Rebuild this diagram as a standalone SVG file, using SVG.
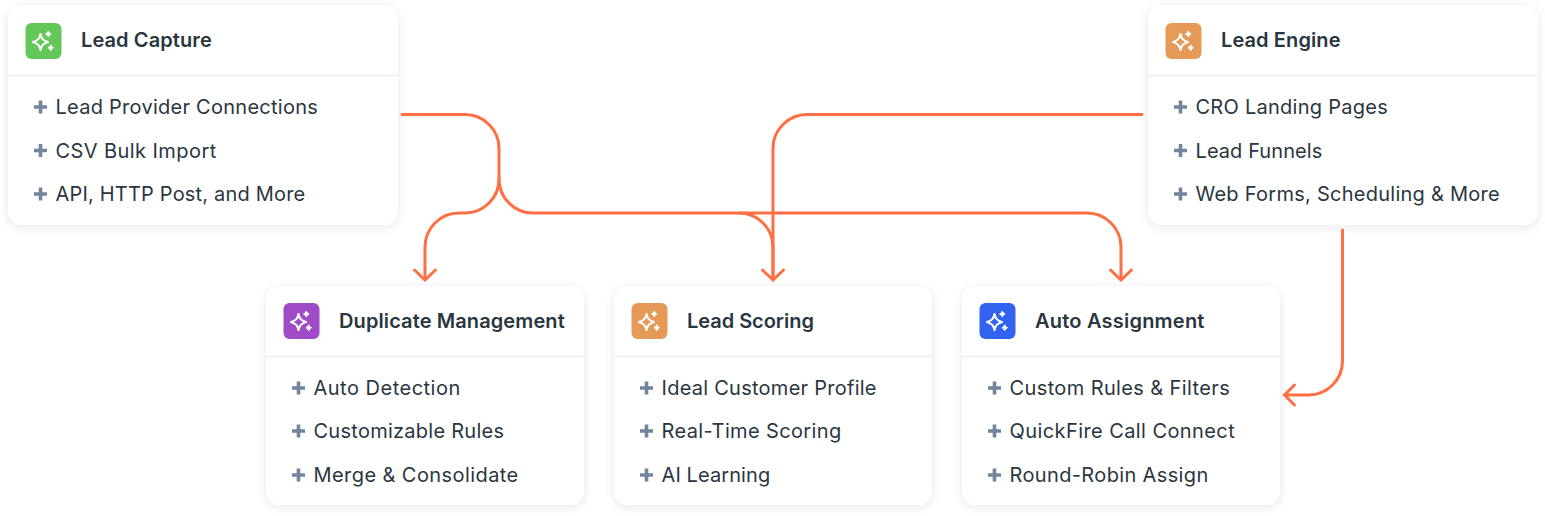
<svg xmlns="http://www.w3.org/2000/svg" width="1545" height="516" viewBox="0 0 1545 516">
<style>
.card{fill:#fff;filter:url(#sh)}
.div{stroke:#e9eef5;stroke-width:1.5;fill:none}
.title{font:600 20px Inter,"Liberation Sans",sans-serif;fill:#2a3640;letter-spacing:.1px}
.item{font:400 20px Inter,"Liberation Sans",sans-serif;fill:#2a3640;letter-spacing:.26px}
.plus{stroke:#71859c;stroke-width:3.6;fill:none}
.conn{stroke:#ff6f43;stroke-width:3;fill:none;stroke-linecap:round}
.spark{fill:none;stroke:#fff;stroke-width:2.1;stroke-linejoin:round}
.dot{fill:#fff;stroke:#fff;stroke-width:1;stroke-linejoin:round}
</style>
<defs>
<filter id="sh" x="-10%" y="-10%" width="120%" height="125%"><feDropShadow dx="0" dy="2" stdDeviation="5" flood-color="#33415c" flood-opacity="0.1"/></filter>
<g id="sp">
<path class="spark" d="M-1.500 -7.500C-.5 -3 1 -1 6 0.500C1 2 -.5 4 -1.500 8.500C-2.500 4 -4 2 -9 0.500C-4 -1 -2.500 -3 -1.500 -7.500Z"/>
<path class="dot" d="M6.300 -10.500Q6.900 -8.200 9.100 -7.500Q6.900 -6.800 6.300 -4.500Q5.700 -6.800 3.500 -7.500Q5.700 -8.200 6.300 -10.500Z"/>
<path class="dot" d="M8.700 3.200Q9.300 5.500 11.500 6.200Q9.300 6.900 8.700 9.200Q8.100 6.900 5.900 6.200Q8.100 5.500 8.700 3.200Z"/>
</g>
<path id="pl" class="plus" d="M-6.500 0H6.500M0 -6.500V6.500"/>
</defs>
<g id="lead-capture">
<rect class="card" x="8" y="5" width="390" height="220" rx="14"/>
<path class="div" d="M8 75.500H398"/>
<rect x="25.500" y="23" width="36" height="36" rx="6" fill="#64c75a"/>
<use href="#sp" x="42" y="41.500"/>
<text class="title" x="81" y="47">Lead Capture</text>
<use href="#pl" x="40.500" y="107"/><text class="item" x="55.500" y="114">Lead Provider Connections</text>
<use href="#pl" x="40.500" y="150.500"/><text class="item" x="55.500" y="157.500" textLength="161">CSV Bulk Import</text>
<use href="#pl" x="40.500" y="194"/><text class="item" x="55.500" y="201" textLength="250">API, HTTP Post, and More</text>
</g>
<g id="lead-engine">
<rect class="card" x="1148" y="5" width="390" height="220" rx="14"/>
<path class="div" d="M1148 75.500H1538"/>
<rect x="1165.500" y="23" width="36" height="36" rx="6" fill="#e59a58"/>
<use href="#sp" x="1182" y="41.500"/>
<text class="title" x="1221" y="47">Lead Engine</text>
<use href="#pl" x="1180.500" y="107"/><text class="item" x="1195.500" y="114">CRO Landing Pages</text>
<use href="#pl" x="1180.500" y="150.500"/><text class="item" x="1195.500" y="157.500" textLength="127">Lead Funnels</text>
<use href="#pl" x="1180.500" y="194"/><text class="item" x="1195.500" y="201">Web Forms, Scheduling &amp; More</text>
</g>
<g id="duplicate-management">
<rect class="card" x="266" y="286" width="318" height="219" rx="14"/>
<path class="div" d="M266 356.500H584"/>
<rect x="283.500" y="303" width="36" height="36" rx="6" fill="#a04cc6"/>
<use href="#sp" x="300" y="321.500"/>
<text class="title" x="339" y="327.500">Duplicate Management</text>
<use href="#pl" x="298.500" y="388"/><text class="item" x="313.500" y="395" textLength="147">Auto Detection</text>
<use href="#pl" x="298.500" y="431"/><text class="item" x="313.500" y="438">Customizable Rules</text>
<use href="#pl" x="298.500" y="475"/><text class="item" x="313.500" y="482" textLength="205">Merge &amp; Consolidate</text>
</g>
<g id="lead-scoring">
<rect class="card" x="614" y="286" width="318" height="219" rx="14"/>
<path class="div" d="M614 356.500H932"/>
<rect x="631.500" y="303" width="36" height="36" rx="6" fill="#e59a58"/>
<use href="#sp" x="648" y="321.500"/>
<text class="title" x="687" y="327.500" textLength="127">Lead Scoring</text>
<use href="#pl" x="646.500" y="388"/><text class="item" x="661.500" y="395">Ideal Customer Profile</text>
<use href="#pl" x="646.500" y="431"/><text class="item" x="661.500" y="438" textLength="180">Real-Time Scoring</text>
<use href="#pl" x="646.500" y="475"/><text class="item" x="661.500" y="482" textLength="109">AI Learning</text>
</g>
<g id="auto-assignment">
<rect class="card" x="962" y="286" width="318" height="219" rx="14"/>
<path class="div" d="M962 356.500H1280"/>
<rect x="979.500" y="303" width="36" height="36" rx="6" fill="#3163f0"/>
<use href="#sp" x="996" y="321.500"/>
<text class="title" x="1035" y="327.500" textLength="169.500">Auto Assignment</text>
<use href="#pl" x="994.500" y="388"/><text class="item" x="1009.500" y="395" textLength="220.500">Custom Rules &amp; Filters</text>
<use href="#pl" x="994.500" y="431"/><text class="item" x="1009.500" y="438" textLength="225.500">QuickFire Call Connect</text>
<use href="#pl" x="994.500" y="475"/><text class="item" x="1009.500" y="482" textLength="199">Round-Robin Assign</text>
</g>
<g id="connectors">
<path class="conn" d="M402 114.500H465A34 34 0 0 1 499 148.500V179A34 34 0 0 1 465 213H459A34 34 0 0 0 425 247V279"/>
<path class="conn" d="M414.500 270L425 280L435.500 270"/>
<path class="conn" d="M499 179A34 34 0 0 0 533 213H1087A34 34 0 0 1 1121 247V279"/>
<path class="conn" d="M1110.500 270L1121 280L1131.500 270"/>
<path class="conn" d="M739 213A34 34 0 0 1 773 247V279"/>
<path class="conn" d="M1142 114.500H807A34 34 0 0 0 773 148.500V279"/>
<path class="conn" d="M762.500 270L773 280L783.500 270"/>
<path class="conn" d="M1342.500 230V361A34 34 0 0 1 1308.500 395H1285"/>
<path class="conn" d="M1294.500 385L1284.500 395L1294.500 405"/>
</g>
</svg>
